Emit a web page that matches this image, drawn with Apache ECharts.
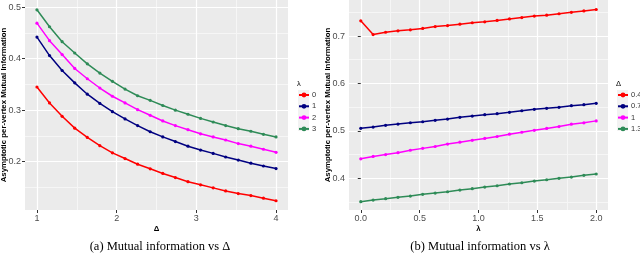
<!DOCTYPE html>
<html>
<head>
<meta charset="utf-8">
<script src="https://cdn.jsdelivr.net/npm/echarts@6/dist/echarts.min.js"></script>
<style>
html,body{margin:0;padding:0;background:#fff;}
#c{width:640px;height:259px;}
</style>
</head>
<body>
<div id="c"></div>
<script>
// ---- data ----
// left panel: x = Delta (20 values from 1 to 4), one series per lambda
const deltaValues = [1.000,1.158,1.316,1.474,1.632,1.789,1.947,2.105,2.263,2.421,2.579,2.737,2.895,3.053,3.211,3.368,3.526,3.684,3.842,4.000];
const lambdaNames = ['0','1','2','3'];
const miLambda0 = [0.345,0.314,0.288,0.265,0.247,0.231,0.217,0.206,0.195,0.186,0.177,0.169,0.161,0.155,0.149,0.143,0.138,0.134,0.129,0.124];
const miLambda1 = [0.442,0.406,0.377,0.353,0.331,0.313,0.297,0.283,0.270,0.258,0.248,0.239,0.230,0.2225,0.216,0.209,0.203,0.197,0.1915,0.1865];
const miLambda2 = [0.469,0.435,0.408,0.381,0.361,0.343,0.327,0.314,0.301,0.290,0.279,0.270,0.262,0.254,0.248,0.242,0.235,0.230,0.224,0.218];
const miLambda3 = [0.495,0.462,0.433,0.411,0.390,0.372,0.356,0.341,0.328,0.319,0.309,0.300,0.292,0.284,0.277,0.270,0.264,0.259,0.253,0.248];
// right panel: x = lambda (20 values from 0 to 2), one series per Delta
const lambdaValues = [0.000,0.105,0.211,0.316,0.421,0.526,0.632,0.737,0.842,0.947,1.053,1.158,1.263,1.368,1.474,1.579,1.684,1.789,1.895,2.000];
const deltaNames = ['0.4','0.7','1','1.3'];
const miDelta04 = [0.732,0.703,0.708,0.711,0.713,0.716,0.720,0.722,0.725,0.728,0.730,0.733,0.736,0.739,0.742,0.744,0.747,0.750,0.753,0.756];
const miDelta07 = [0.5053,0.5080,0.5116,0.5143,0.5171,0.5192,0.5222,0.5249,0.5285,0.5312,0.5340,0.5361,0.5390,0.5424,0.5454,0.5475,0.5496,0.5530,0.5551,0.5580];
const miDelta10 = [0.441,0.446,0.450,0.454,0.459,0.463,0.467,0.472,0.476,0.480,0.484,0.488,0.493,0.497,0.501,0.505,0.509,0.514,0.517,0.521];
const miDelta13 = [0.3505,0.354,0.3568,0.3597,0.3624,0.366,0.3688,0.3715,0.3751,0.3779,0.3814,0.3842,0.3878,0.3905,0.3941,0.3968,0.3998,0.4025,0.4061,0.4089];
// tick labels
const leftXTicks = [1,2,3,4];
const leftXMinor = [1.5,2.5,3.5];
const leftYTicks = [0.2,0.3,0.4,0.5];
const leftYMinor = [0.15,0.25,0.35,0.45];
const rightXTicks = [0,0.5,1,1.5,2];
const rightXMinor = [0.25,0.75,1.25,1.75];
const rightYTicks = [0.4,0.5,0.6,0.7];
const rightYMinor = [0.35,0.45,0.55,0.65,0.75];

// ---- styling ----
const colors = ['#FF0000','#000080','#FF00FF','#2E8B57'];
const tickColor = '#333333';
const labelColor = '#4D4D4D';
const FONT = 'Liberation Sans';

function pairs(xs, ys){ return xs.map((x,i)=>[x, ys[i]]); }

function majorAxis(grid, min, max, ticks, fmt, name, isY){
  const a = {
    type:'value', gridIndex:grid, min:min, max:max,
    axisLine:{show:false},
    axisTick:{show:true, length:3, customValues:ticks, lineStyle:{color:tickColor, width:1}},
    axisLabel:{customValues:ticks, formatter:fmt, color:labelColor, fontSize:9, fontFamily:FONT, margin:4},
    splitLine:{show:true, lineStyle:{color:'#FFFFFF', width:1.2}},
    name:name, nameLocation:'middle', nameMoveOverlap:false,
    nameTextStyle:{fontWeight:'bold', fontSize:7.8, color:'#000', fontFamily:FONT},
    nameGap: isY ? 17 : 15,
    z:2
  };
  if (isY) { a.nameRotate = 90; }
  return a;
}
function minorAxis(grid, min, max, ticks, isY){
  return {
    type:'value', gridIndex:grid, min:min, max:max,
    position: isY ? 'right' : 'top',
    axisLine:{show:false},
    axisTick:{show:true, length:0, customValues:ticks, lineStyle:{color:'rgba(0,0,0,0)'}},
    axisLabel:{show:true, customValues:ticks, color:'rgba(0,0,0,0)', formatter:()=>''},
    splitLine:{show:true, lineStyle:{color:'#F6F6F6', width:1}},
    z:1
  };
}
const f1 = v => String(v);
const f2 = v => v.toFixed(1);

function lineSeries(name, xi, yi, data, color){
  return {
    type:'line', name:name, xAxisIndex:xi, yAxisIndex:yi,
    data:data, symbol:'circle', symbolSize:3.2, showSymbol:true,
    lineStyle:{color:color, width:1.5}, itemStyle:{color:color},
    animation:false, z:5
  };
}

const leftSeries = [miLambda0, miLambda1, miLambda2, miLambda3];
const rightSeries = [miDelta04, miDelta07, miDelta10, miDelta13];
// right-hand series names get a trailing space so they stay distinct from the left ones
const rightIds = deltaNames.map(n => n + ' ');

const series = [];
leftSeries.forEach((ys,i)=>series.push(lineSeries(lambdaNames[i], 0, 0, pairs(deltaValues, ys), colors[i])));
rightSeries.forEach((ys,i)=>series.push(lineSeries(rightIds[i], 2, 2, pairs(lambdaValues, ys), colors[i])));

const legendCommon = {
  orient:'vertical', padding:0, itemWidth:10, itemHeight:6, itemGap:3.3,
  textStyle:{fontSize:7.5, color:'#333', fontFamily:FONT, padding:[0,0,0,-2], overflow:'none'},
  selectedMode:false,
  formatter: n => n.trim()
};

const gridCommon = {top:0, height:210, show:true, backgroundColor:'#EBEBEB', borderWidth:0, outerBoundsMode:'none'};

const option = {
  animation:false,
  backgroundColor:'#FFFFFF',
  grid:[
    Object.assign({}, gridCommon, {left:25, width:263}),
    Object.assign({}, gridCommon, {left:349, width:259})
  ],
  xAxis:[
    majorAxis(0, 0.85, 4.15, leftXTicks, f1, 'Δ', false),
    minorAxis(0, 0.85, 4.15, leftXMinor, false),
    majorAxis(1, -0.1, 2.1, rightXTicks, f2, 'λ', false),
    minorAxis(1, -0.1, 2.1, rightXMinor, false)
  ],
  yAxis:[
    majorAxis(0, 0.106, 0.514, leftYTicks, f2, 'Asymptotic per-vertex Mutual Information', true),
    minorAxis(0, 0.106, 0.514, leftYMinor, true),
    majorAxis(1, 0.333, 0.776, rightYTicks, f2, 'Asymptotic per-vertex Mutual Information', true),
    minorAxis(1, 0.333, 0.776, rightYMinor, true)
  ],
  legend:[
    Object.assign({}, legendCommon, {left:298, top:91, data:lambdaNames}),
    Object.assign({}, legendCommon, {left:617, top:91, data:rightIds})
  ],
  title:[
    {text:'λ', left:297, top:80, padding:0, textStyle:{fontSize:7.5, fontWeight:'normal', color:'#000', fontFamily:FONT}},
    {text:'Δ', left:616, top:80, padding:0, textStyle:{fontSize:7.5, fontWeight:'normal', color:'#000', fontFamily:FONT}},
    {text:'(a) Mutual information vs Δ', left:160, textAlign:'center', top:240, padding:0, textStyle:{fontSize:12.5, fontWeight:'normal', color:'#000', fontFamily:'Liberation Serif'}},
    {text:'(b) Mutual information vs λ', left:480, textAlign:'center', top:240, padding:0, textStyle:{fontSize:12.5, fontWeight:'normal', color:'#000', fontFamily:'Liberation Serif'}}
  ],
  graphic:[
    {type:'rect', left:298, top:90, shape:{width:11, height:41}, style:{fill:'#F2F2F2'}, z:-1},
    {type:'rect', left:617, top:90, shape:{width:11, height:41}, style:{fill:'#F2F2F2'}, z:-1}
  ],
  series:series
};

const chart = echarts.init(document.getElementById('c'), null, {renderer:'canvas'});
chart.setOption(option);
</script>
</body>
</html>
